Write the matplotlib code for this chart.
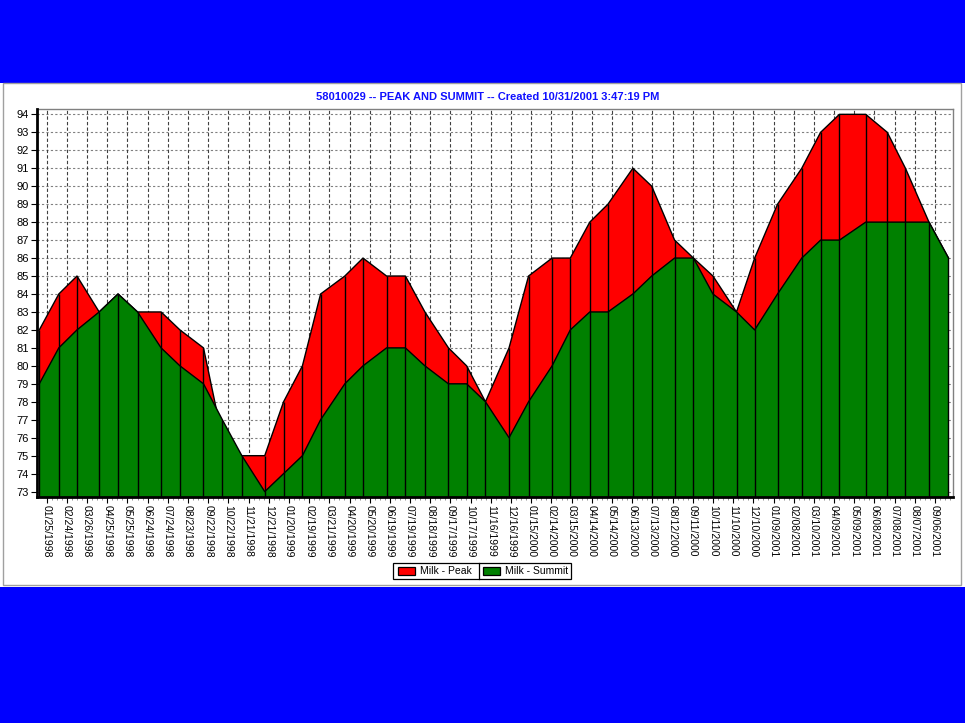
import numpy as np
import pandas as pd
import matplotlib
matplotlib.use("Agg")
import matplotlib.pyplot as plt
import matplotlib.patches as mpatches
from matplotlib.ticker import MultipleLocator, FixedLocator, FormatStrFormatter
import matplotlib.dates as mdates

BLUE = "#0000FF"
RED = "#FF0000"
GREEN = "#008000"
FONT = ["Liberation Sans", "DejaVu Sans"]

# test days and milk values
test_dates = [
    "1998-01-14", "1998-02-12", "1998-03-11", "1998-04-13", "1998-05-11",
    "1998-06-09", "1998-07-14", "1998-08-11", "1998-09-15", "1998-10-13",
    "1998-11-11", "1998-12-15", "1999-01-12", "1999-02-09", "1999-03-08",
    "1999-04-13", "1999-05-10", "1999-06-14", "1999-07-12", "1999-08-10",
    "1999-09-14", "1999-10-11", "1999-11-08", "1999-12-13", "2000-01-11",
    "2000-02-15", "2000-03-13", "2000-04-11", "2000-05-08", "2000-06-14",
    "2000-07-12", "2000-08-15", "2000-09-12", "2000-10-11", "2000-11-15",
    "2000-12-12", "2001-01-15", "2001-02-20", "2001-03-20", "2001-04-17",
    "2001-05-26", "2001-06-27", "2001-07-24", "2001-08-28", "2001-09-26",
]
milk_peak = [82, 84, 85, 83, 84, 83, 83, 82, 81, 76,
             75, 75, 78, 80, 84, 85, 86, 85, 85, 83,
             81, 80, 78, 81, 85, 86, 86, 88, 89, 91,
             90, 87, 86, 85, 83, 86, 89, 91, 93, 94,
             94, 93, 91, 88, 86]
milk_summit = [79, 81, 82, 83, 84, 83, 81, 80, 79, 77,
               75, 73, 74, 75, 77, 79, 80, 81, 81, 80,
               79, 79, 78, 76, 78, 80, 82, 83, 83, 84,
               85, 86, 86, 84, 83, 82, 84, 86, 87, 87,
               88, 88, 88, 88, 86]

tick_start = "1998-01-25"
tick_step_days = 30
n_ticks = 45

title = "58010029 -- PEAK AND SUMMIT -- Created 10/31/2001 3:47:19 PM"

dates = pd.to_datetime(test_dates)
peak = np.array(milk_peak, dtype=float)
summit = np.array(milk_summit, dtype=float)
ticks = pd.date_range(tick_start, periods=n_ticks, freq=f"{tick_step_days}D")

W, H = 965, 723
fig = plt.figure(figsize=(W / 100, H / 100), dpi=100)
fig.patch.set_facecolor("white")


def fx(px):
    return px / W


def fy(py):
    return 1 - py / H


# blue bands and panel frame
fig.patches.append(mpatches.Rectangle((0, fy(83)), 1, 83 / H, transform=fig.transFigure,
                                      facecolor=BLUE, edgecolor="none", zorder=-2))
fig.patches.append(mpatches.Rectangle((0, 0), 1, fy(587), transform=fig.transFigure,
                                      facecolor=BLUE, edgecolor="none", zorder=-2))
fig.patches.append(mpatches.Rectangle((fx(3), fy(585)), 958 / W, 502 / H,
                                      transform=fig.transFigure, facecolor="white",
                                      edgecolor="#A0A0A0", lw=1.0, zorder=-1))

ax = fig.add_axes([fx(37), fy(497), 916 / W, 387.7 / H])
ax.set_zorder(1)
ax.set_facecolor("white")

ybot = 72.7
t0 = pd.Timestamp(tick_start)
ax.set_xlim(t0 - pd.Timedelta(days=14.4), t0 + pd.Timedelta(days=1346.7))
ax.set_ylim(ybot, 94.28)

# grid
for y in range(73, 95):
    ax.axhline(y, color="#808080", lw=0.8, ls=(0, (2, 2)), zorder=1)
for t in ticks:
    ax.axvline(t, color="#404040", lw=0.8, ls=(0, (3, 2)), zorder=1)

ax.fill_between(dates, ybot, peak, facecolor=RED, edgecolor="none", zorder=2)
ax.plot(dates, peak, color="black", lw=1.0, zorder=3)
ax.fill_between(dates, ybot, summit, facecolor=GREEN, edgecolor="none", zorder=4)
ax.plot(dates, summit, color="black", lw=1.0, zorder=5)
ax.vlines(dates, ybot, np.maximum(peak, summit), color="black", lw=1.0, zorder=6)

ax.xaxis.set_major_locator(FixedLocator(mdates.date2num(ticks)))
ax.xaxis.set_major_formatter(mdates.DateFormatter("%m/%d/%Y"))
ax.xaxis.set_minor_locator(FixedLocator(
    mdates.date2num(pd.date_range(tick_start, periods=n_ticks * 4, freq="7.5D"))))
ax.yaxis.set_major_locator(MultipleLocator(1))
ax.yaxis.set_major_formatter(FormatStrFormatter("%d"))

ax.tick_params(axis="x", which="major", direction="out", length=4, width=0.8,
               pad=2, labelsize=7.5, labelrotation=270, colors="black")
ax.tick_params(axis="x", which="minor", direction="out", length=2, width=0.6, color="#808080")
ax.tick_params(axis="y", which="major", direction="out", length=4, width=0.8,
               pad=2, labelsize=8, colors="black")
for lab in ax.get_xticklabels() + ax.get_yticklabels():
    lab.set_family(FONT)

for side in ["top", "right"]:
    ax.spines[side].set_color("#808080")
    ax.spines[side].set_linewidth(1.0)
for side in ["left", "bottom"]:
    ax.spines[side].set_color("black")
    ax.spines[side].set_linewidth(2.0)
    ax.spines[side].set_zorder(10)

fig.text(fx(488), fy(97), title, color="#1010FF", fontsize=8, fontweight="bold",
         ha="center", va="center", family=FONT)

# legend box drawn by hand
fig.patches.append(mpatches.Rectangle((fx(393), fy(579)), fx(571) - fx(393), fy(563) - fy(579),
                                      transform=fig.transFigure, facecolor="white",
                                      edgecolor="black", lw=0.9, zorder=5))
fig.lines.append(plt.Line2D([fx(479), fx(479)], [fy(579), fy(563)], transform=fig.transFigure,
                            color="black", lw=0.9, zorder=6))
for x0, col, label in [(398, RED, "Milk - Peak"), (483, GREEN, "Milk - Summit")]:
    fig.patches.append(mpatches.Rectangle((fx(x0), fy(575)), fx(17), 8 / H,
                                          transform=fig.transFigure, facecolor=col,
                                          edgecolor="black", lw=0.9, zorder=6))
    fig.text(fx(x0 + 22), fy(571), label, fontsize=7.5, ha="left", va="center",
             family=FONT, zorder=7)

fig.savefig("out.png", dpi=100)
